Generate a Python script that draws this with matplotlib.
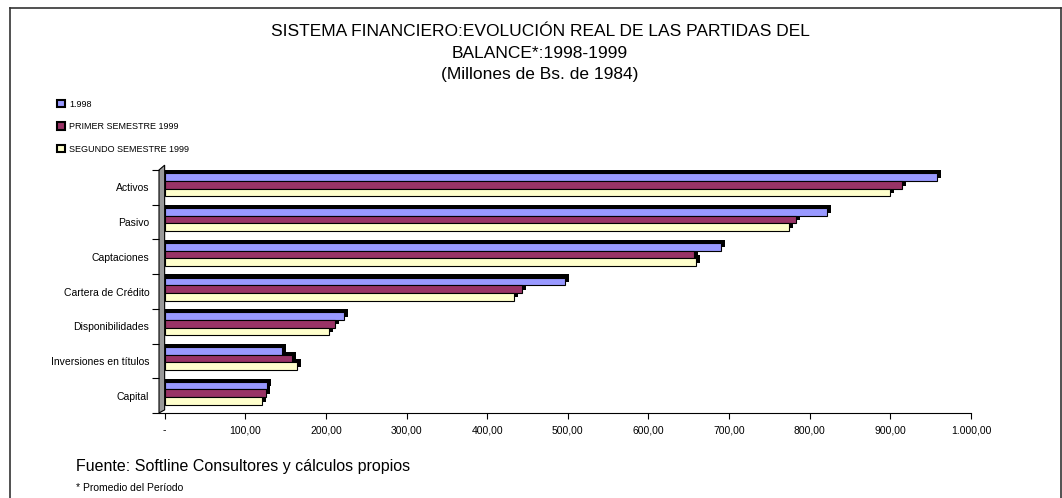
import matplotlib.pyplot as plt
import numpy as np
from matplotlib.patches import Patch, Polygon
from matplotlib.lines import Line2D

# === datos
categorias = ["Activos", "Pasivo", "Captaciones", "Cartera de Crédito",
              "Disponibilidades", "Inversiones en títulos", "Capital"]
series = ["1.998", "PRIMER SEMESTRE 1999", "SEGUNDO SEMESTRE 1999"]
v_1998 = [958, 821, 690, 497, 223, 146, 127]
v_sem1 = [915, 783, 656, 443, 211, 158, 126]
v_sem2 = [899, 774, 659, 433, 204, 164, 121]
x_ticks = [0, 100, 200, 300, 400, 500, 600, 700, 800, 900, 1000]
x_labels = ["-", "100,00", "200,00", "300,00", "400,00", "500,00",
            "600,00", "700,00", "800,00", "900,00", "1.000,00"]

colores = ["#9999FF", "#993366", "#FFFFCC"]
fuente = "Liberation Sans"
plt.rcParams['font.family'] = [fuente, 'DejaVu Sans']

fig = plt.figure(figsize=(10.62, 4.98), dpi=100)
ax = fig.add_axes([159 / 1062, 1 - 413 / 498, 812 / 1062, 243 / 498])

n = len(categorias)
pos = np.arange(n)[::-1]          # Activos arriba
h = 0.22
dx, dy = 5, 0.09                  # efecto 3D
valores = [v_1998, v_sem1, v_sem2]

# sombras negras (profundidad)
for i, vals in enumerate(valores):
    y = pos + 0.07 + h * (1 - i)
    ax.barh(y + dy, np.array(vals) + dx, height=h, left=0, color="black", zorder=2)
# caras frontales
for i, vals in enumerate(valores):
    y = pos + 0.07 + h * (1 - i)
    ax.barh(y, vals, height=h, left=0, color=colores[i],
            edgecolor="black", linewidth=0.8, zorder=3)

# pared izquierda gris
ax.add_patch(Polygon([(-7, -0.5), (0, -0.5 + dy), (0, n - 0.5 + dy + 0.05),
                      (-7, n - 0.5)], closed=True, facecolor="#999999",
                     edgecolor="black", linewidth=0.8, zorder=1, clip_on=False))

ax.set_xlim(-7, 1000)
ax.set_ylim(-0.5, n - 0.5)
ax.set_xticks(x_ticks)
ax.set_xticklabels(x_labels, fontsize=7.5)
ax.set_yticks(pos)
ax.set_yticklabels(categorias, fontsize=7.5)
ax.set_yticks(np.arange(-0.5, n, 1.0), minor=True)
ax.tick_params(axis="y", which="major", length=0, pad=7)
ax.tick_params(axis="y", which="minor", length=5, direction="out", width=0.8)
ax.tick_params(axis="x", length=4, direction="out", width=0.8, pad=5)
for s in ["top", "right", "left"]:
    ax.spines[s].set_visible(False)
ax.spines["bottom"].set_linewidth(0.8)

# === título
fig.text(540 / 1062, 1 - 32 / 498,
         "SISTEMA FINANCIERO:EVOLUCIÓN REAL DE LAS PARTIDAS DEL",
         ha="center", va="center", fontsize=12.5)
fig.text(540 / 1062, 1 - 53 / 498, "BALANCE*:1998-1999",
         ha="center", va="center", fontsize=12.5)
fig.text(540 / 1062, 1 - 75 / 498, "(Millones de Bs. de 1984)",
         ha="center", va="center", fontsize=12.5)

# === leyenda
handles = [Patch(facecolor=c, edgecolor="black", linewidth=1.5) for c in colores]
fig.legend(handles, series, loc="upper left",
           bbox_to_anchor=(52 / 1062, 1 - 95 / 498), frameon=False,
           fontsize=6.5, handlelength=0.9, handleheight=0.9,
           handletextpad=0.5, labelspacing=1.5, borderpad=0)

# === notas
fig.text(76 / 1062, 1 - 466 / 498,
         "Fuente: Softline Consultores y cálculos propios",
         ha="left", va="center", fontsize=11.5)
fig.text(76 / 1062, 1 - 488 / 498, "* Promedio del Período",
         ha="left", va="center", fontsize=7.5)

# === marco
for xs, ys in [([10, 10], [8, 498]), ([10, 1061], [8, 8]), ([1061, 1061], [8, 498])]:
    fig.add_artist(Line2D(np.array(xs) / 1062, 1 - np.array(ys) / 498,
                          color="#333333", linewidth=1.2))

fig.savefig("out.png", dpi=100)
